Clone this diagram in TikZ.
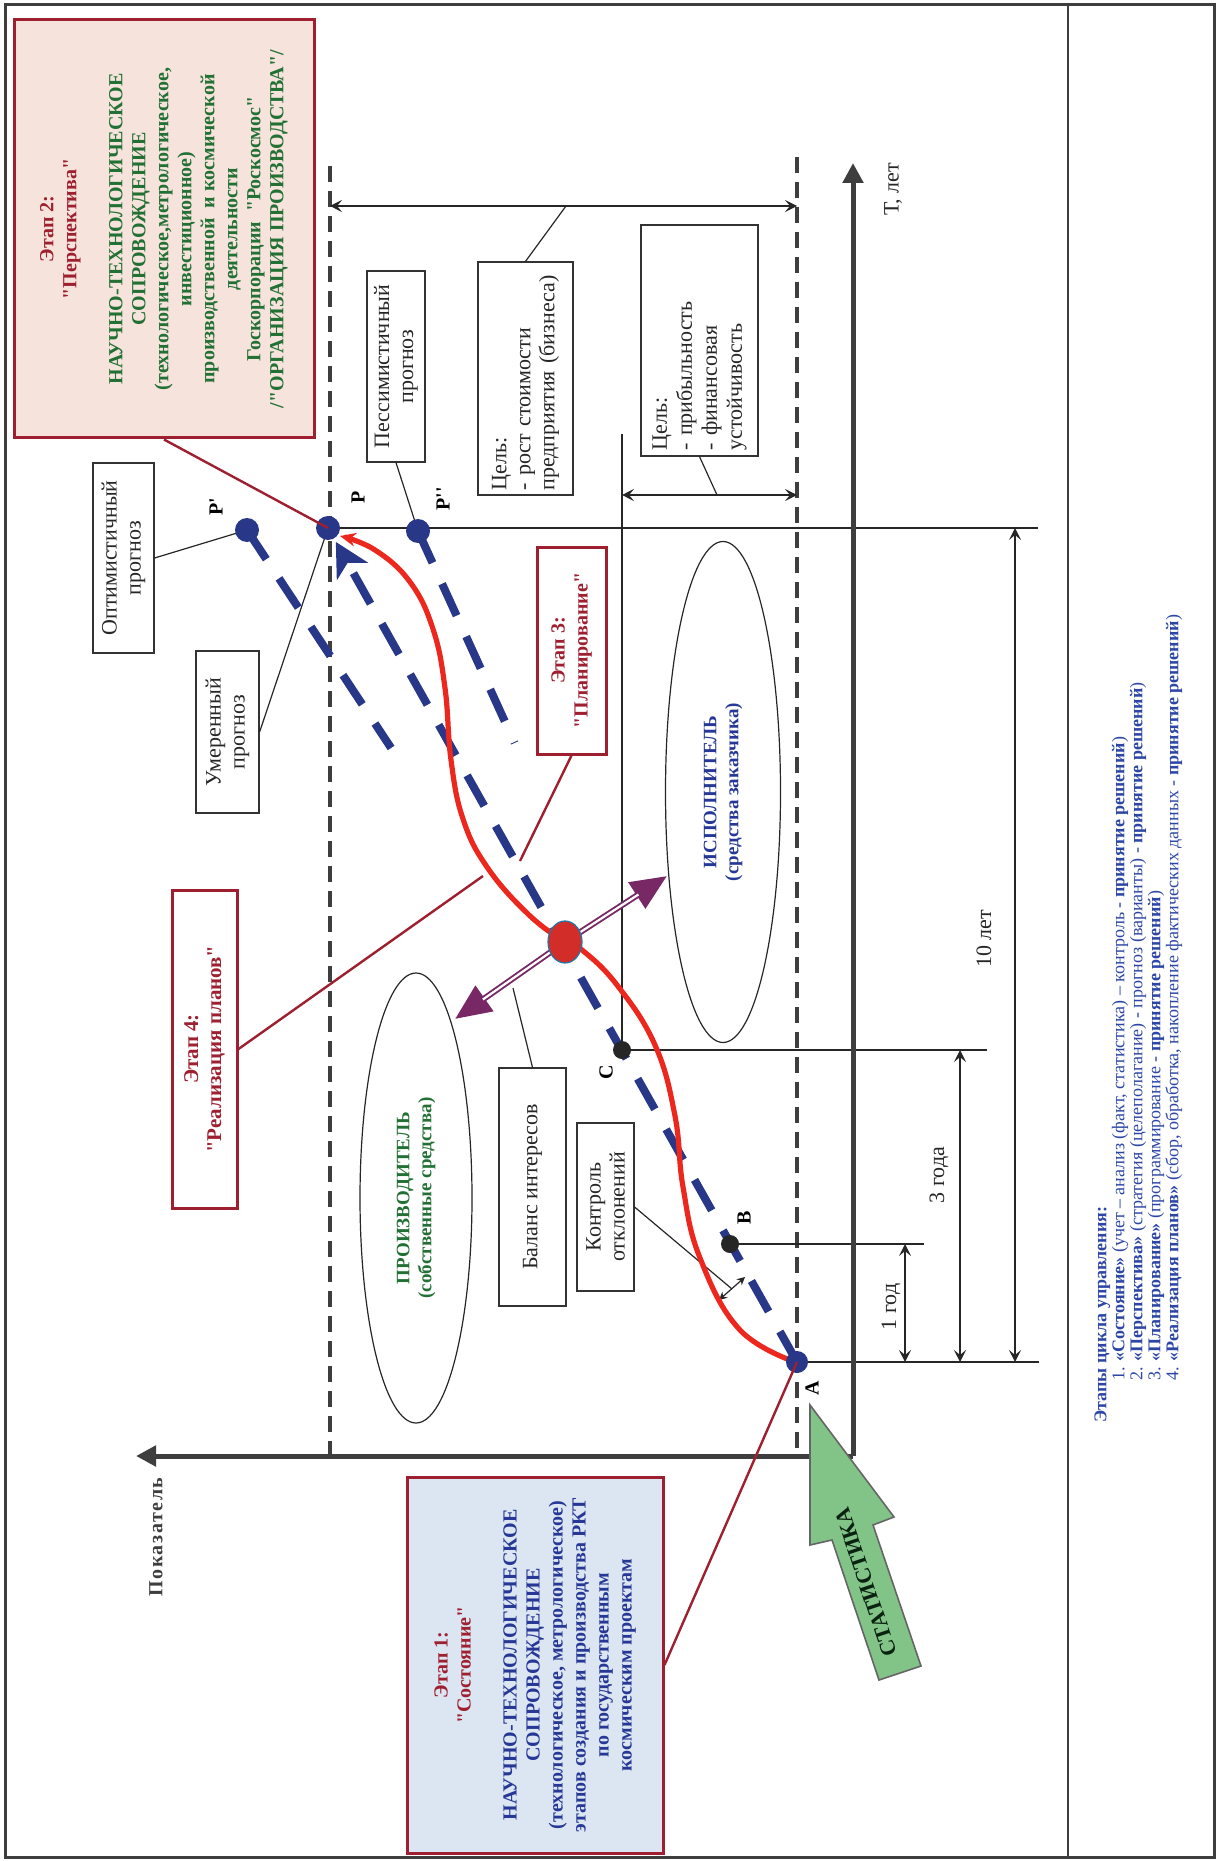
\documentclass[tikz,border=0pt]{standalone}
\usepackage{fontspec}
\setmainfont{Liberation Serif}[Ligatures=TeXOff]
\usetikzlibrary{arrows.meta,calc,shapes.geometric}
\definecolor{dred}{RGB}{158,32,48}
\definecolor{dgreen}{RGB}{34,112,52}
\definecolor{dblue}{RGB}{38,55,150}
\definecolor{navy}{RGB}{40,55,135}
\definecolor{rcurve}{RGB}{236,40,30}
\definecolor{purp}{RGB}{120,40,100}
\definecolor{pinkf}{RGB}{246,228,220}
\definecolor{bluef}{RGB}{220,230,242}
\definecolor{greenf}{RGB}{130,196,136}
\definecolor{axgray}{RGB}{62,62,62}
\definecolor{lblue}{RGB}{45,70,165}
\definecolor{dotred}{RGB}{210,45,40}
\definecolor{dotrim}{RGB}{30,120,170}
\begin{document}
\begin{tikzpicture}[x=0.5pt,y=-0.5pt,
  thinl/.style={draw=black!85, line width=0.6pt},
  gdash/.style={draw=axgray, line width=2pt, dash pattern=on 8pt off 4.5pt},
  bdash/.style={draw=navy, line width=4pt, dash pattern=on 17.5pt off 11.5pt},
  dimarr/.style={draw=black!85, line width=0.6pt, {Stealth[length=6pt,width=6pt,inset=2.5pt]}-{Stealth[length=6pt,width=6pt,inset=2.5pt]}},
  axisarr/.style={draw=axgray, line width=2.5pt, -{Triangle[length=10pt,width=10pt]}},
  tbox/.style={draw=black!80, line width=0.6pt, fill=white, rotate=90, inner sep=2pt, align=center, text=black!85, font=\fontsize{11}{12}\selectfont},
  stagebox/.style={draw=dred, line width=1.5pt, rotate=90, inner sep=2pt, align=center, font=\bfseries\fontsize{10}{11.5}\selectfont},
  bdot/.style={circle, fill=navy, inner sep=0pt, minimum size=12pt},
  kdot/.style={circle, fill=black!85, inner sep=0pt, minimum size=9pt},
  ptlabel/.style={rotate=90, font=\bfseries\fontsize{10}{12}\selectfont},
  dimlabel/.style={rotate=90, font=\fontsize{11}{12}\selectfont, text=black!85},
  leader/.style={draw=dred, line width=1.2pt},
  ellnode/.style={ellipse, draw=black!85, line width=0.6pt, rotate=90, align=center, inner sep=1pt, font=\bfseries\fontsize{9.5}{11}\selectfont},
]
\useasboundingbox (0,0) rectangle (1219,1861);
% frame
\draw[axgray, line width=1.5pt] (5,5) rectangle (1214,1857);
\draw[axgray, line width=1pt] (1068,5) -- (1068,1857);

% key coordinates
\coordinate (O) at (853,1456);
\coordinate (Ttip) at (853,163);
\coordinate (Xtip) at (136,1456);
\coordinate (DL1) at (330,166); \coordinate (DL2) at (330,1458);
\coordinate (DR1) at (797,157); \coordinate (DR2) at (797,1458);
\coordinate (P) at (328,528);
\coordinate (P1) at (247,530);
\coordinate (P2) at (418,531);
\coordinate (A) at (797,1362);
\coordinate (B) at (730,1244);
\coordinate (C) at (622,1050);
\coordinate (D) at (565,942);

% dashed vertical lines
\draw[gdash] (DL1) -- (DL2);
\draw[gdash] (DR1) -- (DR2);

% thin reference lines
\coordinate (hP) at (1038,528);
\coordinate (hC) at (987,1050);
\coordinate (hB) at (924,1244);
\coordinate (hA) at (1039,1362);
\coordinate (vC) at (622,434);
\draw[thinl] (P) -- (hP);
\draw[thinl] (C) -- (hC);
\draw[thinl] (B) -- (hB);
\draw[thinl] (A) -- (hA);
\draw[thinl] (C) -- (vC);

% dimension arrows
\coordinate (d1) at (905,0); \coordinate (d3) at (960,0); \coordinate (d10) at (1015,0);
\draw[dimarr] (d1 |- B) -- (d1 |- A);
\draw[dimarr] (d3 |- C) -- (d3 |- A);
\draw[dimarr] (d10 |- P) -- (d10 |- A);
\node[dimlabel] (l1) at (891,1307) {1 год};
\node[dimlabel] (l3) at (939,1175) {3 года};
\node[dimlabel] (l10) at (984,939) {10 лет};
\coordinate (t1) at (330,206); \coordinate (t2) at (797,206);
\coordinate (u1) at (622,495); \coordinate (u2) at (797,495);
\draw[dimarr] (t1) -- (t2);
\draw[dimarr] (u1) -- (u2);

% axes
\draw[axisarr] (O) -- (Ttip);
\draw[axisarr] (O) -- (Xtip);
\node[rotate=90, font=\fontsize{11}{12}\selectfont, text=black!85] (tlab) at (893,189) {Т, лет};
\node[rotate=90, font=\bfseries\fontsize{10}{12}\selectfont\addfontfeature{LetterSpace=8}, text=axgray] (xlab) at (156,1537) {Показатель};

% text boxes
\node[tbox, minimum width=95pt, minimum height=30.5pt] (opt) at (123.5,558) {Оптимистичный\\прогноз};
\node[tbox, minimum width=81pt, minimum height=31.5pt] (umer) at (227.5,732) {Умеренный\\прогноз};
\node[tbox, minimum width=95.5pt, minimum height=29pt] (pess) at (396,366.5) {Пессимистичный\\прогноз};
\node[tbox, minimum width=116.5pt, minimum height=47.5pt, text width=112pt, align=left] (goal1) at (525.5,378.5) {Цель:\\- рост стоимости\\предприятия (бизнеса)};
\node[tbox, minimum width=115.5pt, minimum height=58.5pt, text width=110pt, align=left, font=\fontsize{11}{12.5}\selectfont] (goal2) at (699.5,340.5) {Цель:\\- прибыльность\\- финансовая\\устойчивость};
\node[tbox, minimum width=119pt, minimum height=33.5pt] (bal) at (532.5,1187) {Баланс интересов};
\node[tbox, minimum width=84pt, minimum height=28.5pt] (kontr) at (605.5,1207) {Контроль\\отклонений};

% leaders of text boxes
\coordinate (g1end) at (566,206);
\coordinate (g2end) at (717,495);
\coordinate (balend) at (513,988);
\coordinate (k1) at (745,1277);
\coordinate (k2) at (719,1300);
\coordinate (kmid) at (732,1289);
\draw[thinl] (opt.south) -- (P1);
\draw[thinl] (umer.south) -- (P);
\draw[thinl] (pess.west) -- (P2);
\draw[thinl] (goal1.east) -- (g1end);
\draw[thinl] (goal2.west) -- (g2end);
\draw[thinl] (bal.east) -- (balend);
\draw[thinl] (kontr.south) -- (kmid);
\draw[thinl, {Stealth[length=4pt,width=4pt]}-{Stealth[length=4pt,width=4pt]}] (k1) -- (k2);

% ellipses
\node[ellnode, minimum width=225pt, minimum height=56pt, text=dgreen] (prod) at (416,1198) {ПРОИЗВОДИТЕЛЬ\\(собственные средства)};
\node[ellnode, minimum width=250.5pt, minimum height=57.5pt, text=dblue] (isp) at (723,792) {ИСПОЛНИТЕЛЬ\\(средства заказчика)};

% blue dashed forecast lines
\draw[bdash] (P1) -- ($(P1)!0.262!(A)$);
\draw[bdash] (P2) -- ($(P2)!0.255!(A)$);
\draw[bdash, -{Stealth[length=17pt,width=18pt,inset=5pt,line width=0pt]}, shorten >=8pt] (A) -- (P);

% red curve
\draw[rcurve, line width=2.6pt, -{Stealth[length=8pt,width=7pt,line width=0pt]}] plot[smooth, tension=0.7] coordinates {(798,1363) (740,1330) (700,1258) (683,1187) (675,1116) (655,1045) (617,985) (582,950) (565,942) (528,914) (487,867) (463,819) (451,760) (445,688) (433,629) (410,582) (375,550) (340,536)};

% purple double arrows
\coordinate (UR) at (667,876);
\coordinate (LL) at (455,1019);
\draw[purp, line width=3pt, -{Triangle[length=18pt,width=15pt]}] (D) -- (UR);
\draw[purp, line width=3pt, -{Triangle[length=18pt,width=15pt]}] (D) -- (LL);
\draw[white, line width=1.1pt, shorten >=17pt] (D) -- (UR);
\draw[white, line width=1.1pt, shorten >=17pt] (D) -- (LL);
\node[ellipse, fill=dotred, draw=dotrim, line width=0.6pt, minimum width=17pt, minimum height=21pt, inner sep=0pt] (Dn) at (D) {};

% stage leaders
\coordinate (s4end) at (483,876);
\coordinate (s3end) at (520,861);

% points
\node[bdot] (Pn) at (P) {};
\node[bdot] (P1n) at (P1) {};
\node[bdot] (P2n) at (P2) {};
\node[bdot, minimum size=11pt] (An) at (A) {};
\node[kdot] (Bn) at (B) {};
\node[kdot] (Cn) at (C) {};
\node[ptlabel] (lP) at (358,497) {P};
\node[ptlabel] (lP1) at (216,507) {P'};
\node[ptlabel] (lP2) at (443,499) {P''};
\node[ptlabel] (lA) at (812,1388) {A};
\node[ptlabel] (lB) at (744,1218) {B};
\node[ptlabel] (lC) at (606,1072) {C};

% green STATISTIKA arrow
\filldraw[fill=greenf, draw=axgray!80, line width=0.8pt] (810,1405) -- (894,1517) -- (873,1525) -- (921,1666) -- (879,1680) -- (832,1540) -- (810,1545) -- cycle;
\node[rotate=108.5, font=\bfseries\fontsize{11}{12}\selectfont, text=black!70!dgreen] (stat) at (866,1582) {СТАТИСТИКА};

% stage boxes
\node[stagebox, fill=pinkf, minimum width=209pt, minimum height=150pt, text=dgreen] (s2) at (164,229) {\textcolor{dred}{Этап 2:}\\\textcolor{dred}{"Перспектива"}\\[11.5pt]НАУЧНО-ТЕХНОЛОГИЧЕСКОЕ\\СОПРОВОЖДЕНИЕ\\(технологическое,метрологическое,\\инвестиционное)\\производственной \ и космической\\деятельности\\Госкорпорации \ "Роскосмос"\\/"ОРГАНИЗАЦИЯ ПРОИЗВОДСТВА"/};
\node[stagebox, fill=bluef, minimum width=188pt, minimum height=128pt, text=dblue] (s1) at (535,1665) {\textcolor{dred}{Этап 1:}\\\textcolor{dred}{"Состояние"}\\[11.5pt]НАУЧНО-ТЕХНОЛОГИЧЕСКОЕ\\СОПРОВОЖДЕНИЕ\\(технологическое, метрологическое)\\этапов создания и производства РКТ\\по государственным\\космическим проектам};
\node[stagebox, fill=white, minimum width=103.5pt, minimum height=34.5pt, text=dred] (s3) at (571.5,650.5) {Этап 3:\\"Планирование"};
\node[stagebox, fill=white, minimum width=159pt, minimum height=32.5pt, text=dred, font=\bfseries\fontsize{10.5}{11.5}\selectfont] (s4) at (204.5,1049) {Этап 4:\\"Реализация планов"};

\draw[leader] (s2.west) -- (Pn.center);
\draw[leader] (s3.west) -- (s3end);
\draw[leader] (s4.south) -- (s4end);
\draw[leader] (s1.south) -- (An.center);

% legend
\node[rotate=90, anchor=north west, inner sep=0pt, align=left, text=lblue, font=\fontsize{9}{9}\selectfont] (legend) at (1094,1423) {\textbf{Этапы цикла управления:}\\
\hspace*{21pt}1. \textbf{«Состояние»} (учет – анализ (факт, статистика) – контроль - \textbf{принятие решений})\\
\hspace*{21pt}2. \textbf{«Перспектива»} (стратегия (целеполагание) - прогноз (варианты) - \textbf{принятие решений})\\
\hspace*{21pt}3. \textbf{«Планирование»} (программирование - \textbf{принятие решений})\\
\hspace*{21pt}4. \textbf{«Реализация планов»} (сбор, обработка, накопление фактических данных - \textbf{принятие решений})};
\end{tikzpicture}
\end{document}
